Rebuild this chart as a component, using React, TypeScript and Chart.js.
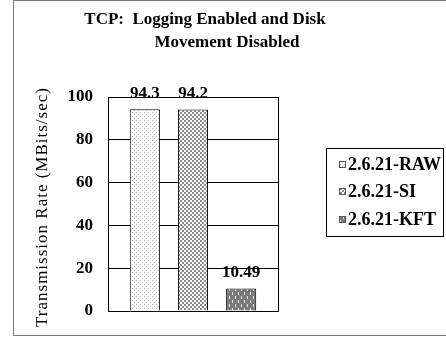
import React, { useEffect, useRef } from "react";
import { Chart, registerables } from "chart.js";

Chart.register(...registerables);

const categories = [""];
const seriesNames = ["2.6.21-RAW", "2.6.21-SI", "2.6.21-KFT"];
const seriesValues = [[94.3], [94.2], [10.49]];
const valueLabels = ["94.3", "94.2", "10.49"];
const yTicks = [0, 20, 40, 60, 80, 100];
const titleLines = ["TCP:  Logging Enabled and Disk", "Movement Disabled"];
const yAxisTitle = "Transmission Rate (MBits/sec)";

const SERIF = "'Liberation Serif', 'Times New Roman', 'DejaVu Serif', serif";

function makePattern(kind: number): CanvasPattern | string {
  const c = document.createElement("canvas");
  const ctx = c.getContext("2d");
  if (!ctx) return "#999";
  if (kind === 0) {
    c.width = 4; c.height = 4;
    ctx.fillStyle = "#ffffff"; ctx.fillRect(0, 0, 4, 4);
    ctx.fillStyle = "#b0b0b0";
    ctx.fillRect(0, 0, 1, 1);
    ctx.fillRect(2, 2, 1, 1);
  } else if (kind === 1) {
    c.width = 4; c.height = 4;
    ctx.fillStyle = "#ffffff"; ctx.fillRect(0, 0, 4, 4);
    ctx.fillStyle = "#8a8a8a";
    ctx.fillRect(0, 0, 2, 2);
    ctx.fillRect(2, 2, 2, 2);
  } else {
    c.width = 6; c.height = 8;
    ctx.fillStyle = "#7a7a7a"; ctx.fillRect(0, 0, 6, 8);
    ctx.fillStyle = "#e0e0e0";
    ctx.fillRect(1, 0, 1, 3);
    ctx.fillRect(4, 4, 1, 3);
  }
  const p = ctx.createPattern(c, "repeat");
  return p || "#999";
}

export default function App() {
  const ref = useRef<HTMLCanvasElement | null>(null);

  useEffect(() => {
    document.body.style.margin = "0";
    const canvas = ref.current;
    if (!canvas) return;
    let chart: Chart | null = null;
    let cancelled = false;
    const patterns = [makePattern(0), makePattern(1), makePattern(2)];

    const decor = {
      id: "decor",
      beforeDatasetsDraw(ch: any) {
        const { ctx, chartArea } = ch;
        ctx.save();
        ctx.strokeStyle = "#000";
        ctx.lineWidth = 1;
        ctx.strokeRect(
          Math.round(chartArea.left) + 0.5,
          Math.round(chartArea.top) + 0.5,
          Math.round(chartArea.right - chartArea.left),
          Math.round(chartArea.bottom - chartArea.top)
        );
        ctx.restore();
      },
      afterDatasetsDraw(ch: any) {
        const { ctx } = ch;
        ctx.save();
        ctx.fillStyle = "#000";
        ctx.font = `bold 17px ${SERIF}`;
        ctx.textAlign = "center";
        ctx.textBaseline = "middle";
        ch.data.datasets.forEach((_d: any, i: number) => {
          const el = ch.getDatasetMeta(i).data[0];
          ctx.fillText(valueLabels[i], el.x, el.y - 16);
        });
        ctx.restore();
      },
      afterDraw(ch: any) {
        const { ctx } = ch;
        ctx.save();
        ctx.strokeStyle = "#777";
        ctx.lineWidth = 1;
        ctx.strokeRect(13.5, 0.5, 460, 335);
        ctx.fillStyle = "#000";
        ctx.font = `bold 17px ${SERIF}`;
        ctx.textAlign = "center";
        ctx.textBaseline = "middle";
        ctx.fillText(titleLines[0], 205, 20);
        ctx.fillText(titleLines[1], 227, 43);
        ctx.save();
        ctx.translate(43, 207);
        ctx.rotate(-Math.PI / 2);
        ctx.font = `17px ${SERIF}`;
        (ctx as any).letterSpacing = "1px";
        ctx.fillText(yAxisTitle, 0, 0);
        ctx.restore();
        ctx.fillStyle = "#fff";
        ctx.fillRect(326, 148, 118, 89);
        ctx.strokeStyle = "#000";
        ctx.strokeRect(326.5, 148.5, 117, 88);
        ctx.textAlign = "left";
        ctx.font = `bold 18px ${SERIF}`;
        const ys = [165, 192, 220];
        seriesNames.forEach((name, i) => {
          ctx.fillStyle = patterns[i] as any;
          ctx.fillRect(339, ys[i] - 4, 7, 7);
          ctx.strokeStyle = "#555";
          ctx.strokeRect(339.5, ys[i] - 3.5, 6, 6);
          ctx.fillStyle = "#000";
          ctx.fillText(name, 348, ys[i]);
        });
        ctx.restore();
      },
    };

    const build = () => {
      if (cancelled) return;
      chart = new Chart(canvas, {
        type: "bar",
        data: {
          labels: categories,
          datasets: seriesNames.map((name, i) => ({
            label: name,
            data: seriesValues[i],
            backgroundColor: patterns[i] as any,
            borderColor: "#000",
            borderWidth: 1,
            categoryPercentage: 0.85,
            barPercentage: 0.625,
          })),
        },
        options: {
          responsive: false,
          animation: false,
          layout: { padding: { left: 0, right: 168, top: 97, bottom: 28 } },
          plugins: {
            legend: { display: false },
            title: { display: false },
            tooltip: { enabled: false },
          },
          scales: {
            x: {
              grid: { display: false },
              border: { display: false },
              ticks: { display: false },
              afterFit: (s: any) => { s.height = 0; },
            },
            y: {
              min: 0,
              max: 100,
              afterBuildTicks: (s: any) => { s.ticks = yTicks.map((v) => ({ value: v })); },
              afterFit: (s: any) => { s.width = 108; },
              grid: { color: "#000", lineWidth: 1, drawTicks: false },
              border: { display: false },
              ticks: {
                color: "#000",
                padding: 15,
                font: { family: SERIF, size: 17, weight: "bold" },
              },
            },
          },
        },
        plugins: [decor],
      });
    };

    const fontsApi = (document as any).fonts;
    if (fontsApi && fontsApi.load) {
      Promise.all([
        fontsApi.load("17px 'Liberation Serif'"),
        fontsApi.load("bold 17px 'Liberation Serif'"),
      ]).then(build, build);
    } else {
      build();
    }
    return () => {
      cancelled = true;
      if (chart) chart.destroy();
    };
  }, []);

  return (
    <div style={{ width: 446, height: 339, background: "#fff" }}>
      <canvas ref={ref} width={446} height={339} />
    </div>
  );
}
